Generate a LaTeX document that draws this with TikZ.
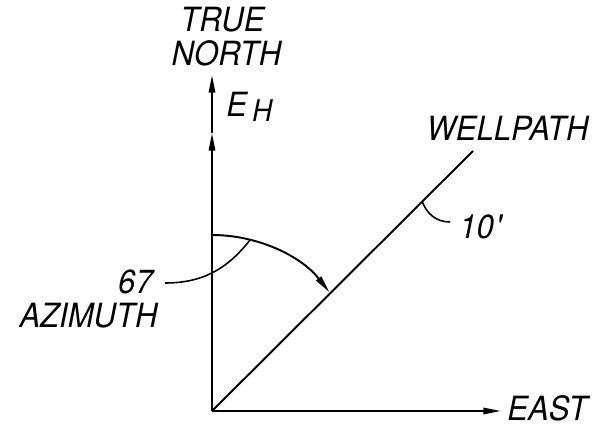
\documentclass[tikz,border=0pt]{standalone}
\usepackage{fontspec}
\setmainfont[FakeSlant=0.2,FakeStretch=0.93]{TeX Gyre Heros}
\usetikzlibrary{arrows.meta}

\begin{document}
\begin{tikzpicture}[x=0.02cm,y=0.02cm,line width=1.1pt,
    arr/.style={-{Triangle[length=10pt,width=3.6pt]}},
    lead/.style={line width=0.9pt},
    lbl/.style={inner sep=0pt,font=\fontsize{19}{22}\selectfont}]
            \useasboundingbox (0,0) rectangle (593,426);
            \coordinate (O) at (212,15);
            \coordinate (M) at (212,293);
            \coordinate (N) at (212,351);
            \coordinate (E) at (501,15);
            \coordinate (W) at (473,275);
            \coordinate (A) at (212,191);
            \coordinate (L) at (250,186);
            \coordinate (Lend) at (165,143);
            \coordinate (T) at (422,225);
            \coordinate (Tend) at (450,204);

            \draw[arr] (O)--(M);
            \draw[arr] (M)--(N);
            \draw[arr] (O)--(E);
            \draw (O)--(W);
            \draw[arr] (A) arc (90:38:149);
            \draw[lead] (L) to[out=-128,in=0] (Lend);
            \draw[lead] (T) to[out=-70,in=180] (Tend);

            \node[lbl] (true) at (221,406) {TRUE};
            \node[lbl] (north) at (225,373) {NORTH};
            \node[lbl,anchor=west] (eh) at (224,319) {E\kern3pt\raisebox{-3pt}{\fontsize{17}{20}\selectfont H}};
            \node[lbl] (well) at (506,298) {WELLPATH};
            \node[lbl,anchor=west] (ten) at (457,199) {10\kern1pt\textquotesingle};
            \node[lbl] (deg) at (134,144) {67};
            \node[lbl] (azi) at (87,110) {AZIMUTH};
            \node[lbl] (east) at (546,18) {EAST};
        \end{tikzpicture}
\end{document}
